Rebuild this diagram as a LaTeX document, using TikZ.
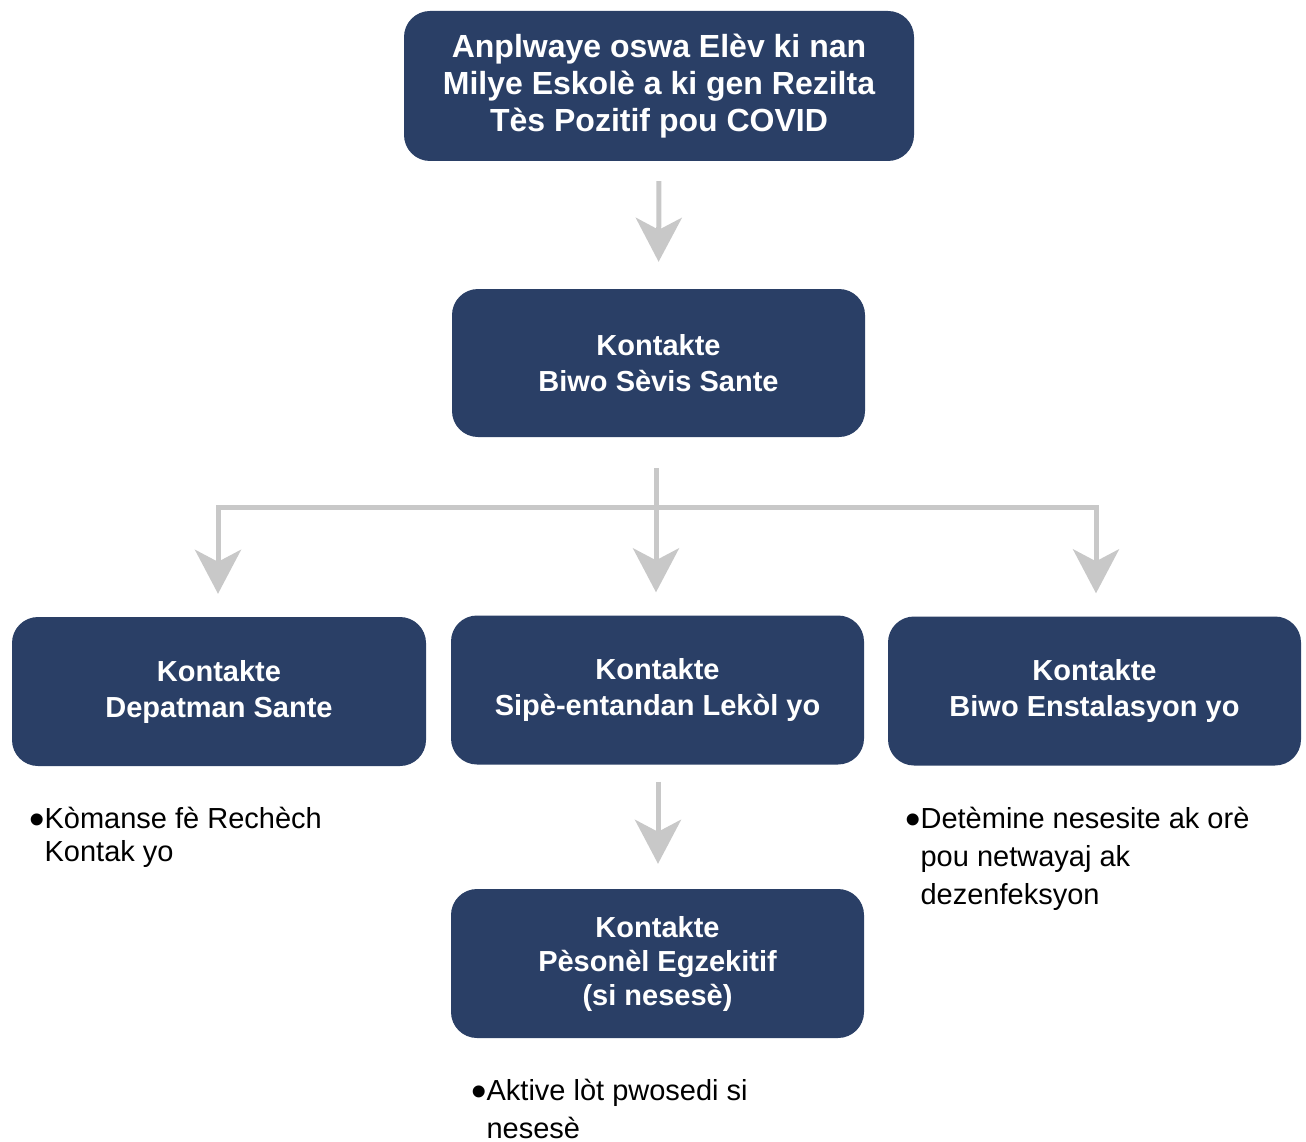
\documentclass[tikz,border=0pt]{standalone}
\usepackage{fontspec}
\setmainfont{Liberation Sans}
\usetikzlibrary{arrows.meta}
\definecolor{navy}{HTML}{2A3F66}
\definecolor{arrgray}{HTML}{C8C8C8}
\newcommand{\bul}{{\fontsize{44}{0}\selectfont\raisebox{-6.5pt}{•}}}
\tikzset{
  box/.style={draw=none, fill=navy, rounded corners=26pt, minimum width=412pt, minimum height=149pt,
    text=white, font=\fontsize{29}{36}\selectfont\bfseries, align=center, inner sep=0pt},
  conn/.style={draw=arrgray, line width=5pt},
  arr/.style={conn, -{Stealth[length=44pt, width=46pt, inset=12pt]}},
  note/.style={anchor=base west, align=left, inner sep=0pt, text=black}
}
\begin{document}
\begin{tikzpicture}[x=1pt, y=-1pt]
\useasboundingbox (0,0) rectangle (1306,1142);
\node[box, minimum width=510pt, minimum height=150pt, font=\fontsize{32}{37}\selectfont\bfseries] (top) at (659,86)
  {Anplwaye oswa Elèv ki nan\\Milye Eskolè a ki gen Rezilta\\Tès Pozitif pou COVID};
\node[box, minimum width=413pt, minimum height=148pt] (sante) at (658.5,363) {Kontakte\\Biwo Sèvis Sante};
\node[box, minimum width=414pt] (dep) at (219,691.5) {Kontakte\\Depatman Sante};
\node[box, minimum width=413pt] (sip) at (657.5,690) {Kontakte\\Sipè-entandan Lekòl yo};
\node[box, minimum width=413pt] (bin) at (1094.5,691) {Kontakte\\Biwo Enstalasyon yo};
\node[box, minimum width=413pt, font=\fontsize{29}{34}\selectfont\bfseries] (pes) at (657.5,963.5) {Kontakte\\Pèsonèl Egzekitif\\(si nesesè)};
\node[note, font=\fontsize{29}{33}\selectfont] (n1) at (29,861) {\bul Kòmanse fè Rechèch\\\hphantom{\bul}Kontak yo};
\node[note, font=\fontsize{29}{38}\selectfont] (n2) at (905,904) {\bul Detèmine nesesite ak orè\\\hphantom{\bul}pou netwayaj ak\\\hphantom{\bul}dezenfeksyon};
\node[note, font=\fontsize{29}{38}\selectfont] (n3) at (471,1138) {\bul Aktive lòt pwosedi si\\\hphantom{\bul}nesesè};
\draw[arr, shorten <=20pt, shorten >=27pt] (top.south) -- (sante.north);
\coordinate (j) at (656,507);
\draw[conn, shorten <=31pt] (sante.south -| j) -- (j);
\draw[arr, shorten >=23pt] (j) -| (dep.north -| 218,0);
\draw[arr, shorten >=23pt] (j) -| (bin.north -| 1096,0);
\draw[arr, shorten >=23pt] (j) -- (sip.north -| j);
\draw[arr, shorten <=17pt, shorten >=25pt] (sip.south -| 658,0) -- (pes.north -| 658,0);
\end{tikzpicture}
\end{document}
